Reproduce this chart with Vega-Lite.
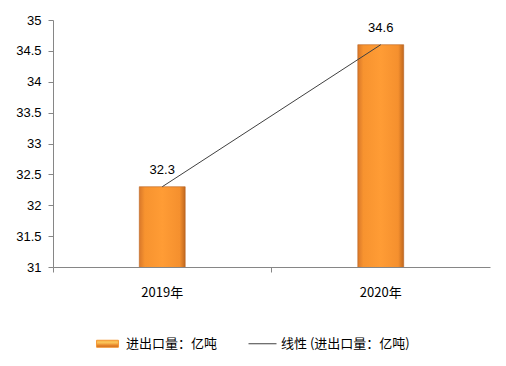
{
  "$schema": "https://vega.github.io/schema/vega-lite/v6.json",
  "width": 437,
  "height": 247,
  "autosize": {"type": "none"},
  "padding": {"left": 53, "top": 20, "right": 16, "bottom": 99},
  "background": "white",
  "config": {"view": {"stroke": null}, "font": "Liberation Sans"},
  "data": {
    "values": [
      {"year": "2019年", "value": 32.3, "s": "线性 (进出口量：亿吨)"},
      {"year": "2020年", "value": 34.6, "s": "线性 (进出口量：亿吨)"}
    ]
  },
  "encoding": {
    "x": {
      "field": "year",
      "type": "nominal",
      "sort": null,
      "title": null,
      "scale": {"paddingInner": 0, "paddingOuter": 0},
      "axis": {
        "labelAngle": 0,
        "labelFont": "Noto Sans CJK SC",
        "labelFontSize": 13,
        "labelColor": "#000000",
        "labelPadding": 14,
        "tickSize": 5,
        "bandPosition": 0,
        "domainColor": "#868686",
        "tickColor": "#868686",
        "grid": false
      }
    },
    "y": {
      "field": "value",
      "type": "quantitative",
      "title": null,
      "scale": {"domain": [31, 35], "zero": false, "nice": false},
      "axis": {
        "values": [31, 31.5, 32, 32.5, 33, 33.5, 34, 34.5, 35],
        "format": "~g",
        "labelFontSize": 13,
        "labelColor": "#000000",
        "labelPadding": 7,
        "tickSize": 5,
        "domainColor": "#868686",
        "tickColor": "#868686",
        "grid": false
      }
    }
  },
  "layer": [
    {
      "mark": {
        "type": "bar",
        "width": {"band": 0.21},
        "clip": true,
        "stroke": "#B8621E",
        "strokeWidth": 0.6,
        "color": {
          "gradient": "linear",
          "x1": 0, "y1": 0, "x2": 1, "y2": 0,
          "stops": [
            {"offset": 0, "color": "#D9782A"},
            {"offset": 0.12, "color": "#F7932F"},
            {"offset": 0.5, "color": "#FF9C35"},
            {"offset": 0.88, "color": "#F5902E"},
            {"offset": 1, "color": "#C0681F"}
          ]
        }
      }
    },
    {
      "mark": {"type": "line", "strokeWidth": 1},
      "encoding": {
        "color": {
          "field": "s",
          "type": "nominal",
          "title": null,
          "scale": {
            "domain": ["进出口量：亿吨", "线性 (进出口量：亿吨)"],
            "range": ["#F39430", "#404040"]
          },
          "legend": {
            "orient": "none",
            "legendX": 40,
            "legendY": 309,
            "direction": "horizontal",
            "symbolSize": 784,
            "symbolType": "stroke",
            "columnPadding": 28,
            "labelOffset": 4,
            "labelFont": "Noto Sans CJK SC",
            "labelFontSize": 13,
            "labelColor": "#000000",
            "labelLimit": 300,
            "encode": {
              "symbols": {
                "update": {
                  "shape": {"signal": "datum.value === '进出口量：亿吨' ? 'M-0.78,-0.25H0.78V0.25H-0.78Z' : 'stroke'"},
                  "fill": {"signal": "datum.value === '进出口量：亿吨' ? {gradient: 'linear', x1: 0, y1: 0, x2: 0, y2: 1, stops: [{offset: 0, color: '#F6B548'}, {offset: 0.35, color: '#FBC45A'}, {offset: 0.7, color: '#E9892C'}, {offset: 1, color: '#C8661E'}]} : 'transparent'"},
                  "stroke": {"signal": "datum.value === '进出口量：亿吨' ? '#B0601E' : '#404040'"},
                  "strokeWidth": {"value": 1},
                  "opacity": {"value": 1}
                }
              }
            }
          }
        }
      }
    },
    {
      "mark": {"type": "text", "baseline": "bottom", "dy": -10, "fontSize": 13, "color": "#000000"},
      "encoding": {"text": {"field": "value", "type": "quantitative", "format": ".1f"}}
    }
  ]
}
